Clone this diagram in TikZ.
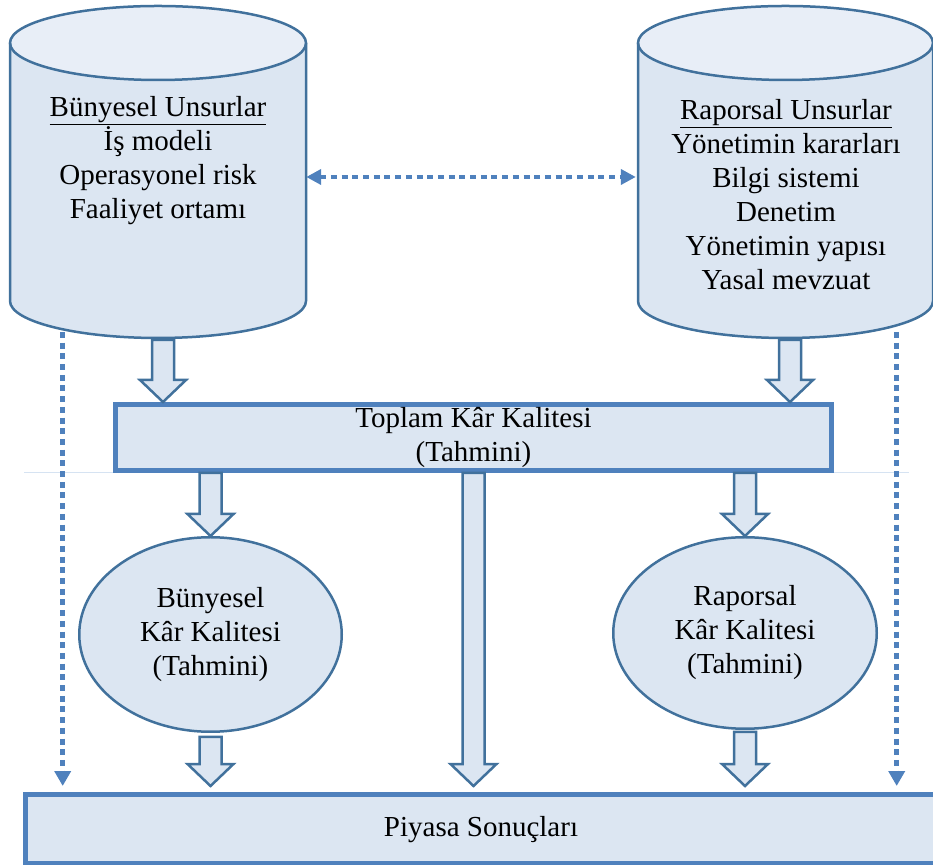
\documentclass[tikz,border=0pt]{standalone}
\usepackage{fontspec}
\setmainfont{Liberation Serif}
\usetikzlibrary{arrows.meta,shapes.geometric,calc}
\definecolor{fillc}{HTML}{DCE6F2}
\definecolor{topc}{HTML}{E8EEF7}
\definecolor{darkc}{HTML}{41719C}
\definecolor{midc}{HTML}{4F81BD}
\definecolor{faintc}{HTML}{D6E3F2}
\tikzset{
  txt/.style={align=center,font=\fontsize{29}{34}\selectfont,inner sep=0pt},
  cylline/.style={draw=darkc,line width=2.5pt},
  boxnode/.style={draw=midc,line width=5pt,fill=fillc,inner sep=0pt,align=center,font=\fontsize{29}{34}\selectfont},
  ellnode/.style={ellipse,draw=darkc,line width=2.5pt,fill=fillc,inner sep=0pt,align=center,font=\fontsize{29}{34}\selectfont},
  barrow/.style={draw=darkc,line width=2.5pt,fill=fillc,line join=miter,
    to path={let \p1=(\tikztostart), \p2=(\tikztotarget) in
      (\x1-11pt,\y1) -- (\x1-11pt,\y2+22pt) -- (\x1-23pt,\y2+22pt) -- (\x1,\y2)
      -- (\x1+23pt,\y2+22pt) -- (\x1+11pt,\y2+22pt) -- (\x1+11pt,\y1) -- cycle}},
  dotline/.style={draw=midc,line width=4.5pt,dash pattern=on 6pt off 4.7pt,
    -{Triangle[length=15pt,width=16pt]}},
  dotboth/.style={draw=midc,line width=4.5pt,dash pattern=on 6pt off 4.7pt,
    {Triangle[length=15pt,width=15pt]}-{Triangle[length=15pt,width=15pt]}}
}
\begin{document}
\begin{tikzpicture}[x=1pt,y=1pt]
\useasboundingbox (0,0) rectangle (933,864);
\clip (0,0) rectangle (933,864);

% faint horizontal rule
\coordinate (fl) at (24,392);
\coordinate (fr) at (909,392);
\draw[faintc,line width=0.8pt] (fl) -- (fr);

% left cylinder
\node[minimum width=296pt,minimum height=332pt,inner sep=0pt] (cylL) at (158,692) {};
\fill[fillc] (10,821) -- (10,563) arc[start angle=180,end angle=360,x radius=148,y radius=37] -- (306,821) -- cycle;
\fill[topc] (158,821) ellipse[x radius=148,y radius=37];
\draw[cylline] (10,821) -- (10,563) arc[start angle=180,end angle=360,x radius=148,y radius=37] -- (306,821);
\draw[cylline] (158,821) ellipse[x radius=148,y radius=37];
\node[txt] (tL) at (158,703) {\underline{Bünyesel Unsurlar}\\İş modeli\\Operasyonel risk\\Faaliyet ortamı};

% right cylinder
\node[minimum width=295pt,minimum height=332pt,inner sep=0pt] (cylR) at (785.5,692) {};
\fill[fillc] (638,821) -- (638,563) arc[start angle=180,end angle=360,x radius=147.5,y radius=37] -- (933,821) -- cycle;
\fill[topc] (785.5,821) ellipse[x radius=147.5,y radius=37];
\draw[cylline] (638,821) -- (638,563) arc[start angle=180,end angle=360,x radius=147.5,y radius=37] -- (933,821);
\draw[cylline] (785.5,821) ellipse[x radius=147.5,y radius=37];
\node[txt] (tR) at (786,669) {\underline{Raporsal Unsurlar}\\Yönetimin kararları\\Bilgi sistemi\\Denetim\\Yönetimin yapısı\\Yasal mevzuat};

% main boxes
\node[boxnode,minimum width=716pt,minimum height=66pt] (toplam) at (473.5,426.5) {Toplam Kâr Kalitesi\\(Tahmini)};
\node[ellnode,minimum width=262.5pt,minimum height=194.5pt] (ellL) at (210.5,229.5) {Bünyesel\\Kâr Kalitesi\\(Tahmini)};
\node[ellnode,minimum width=263.5pt,minimum height=191.5pt] (ellR) at (745,231) {Raporsal\\Kâr Kalitesi\\(Tahmini)};
\node[boxnode,minimum width=914.5pt,minimum height=69pt] (piyasa) at (482.75,35) {};
\node[txt] (pt) at (481,34) {Piyasa Sonuçları};

% helper coordinates
\coordinate (bt) at (0,78);
\coordinate (hy) at (0,687);
\coordinate (a1) at (163,524);
\coordinate (a2) at (790,524);
\coordinate (dL) at (62.7,532);
\coordinate (dR) at (896.7,532);

% block arrows
\draw[barrow] (a1) to (a1 |- toplam.north);
\draw[barrow] (a2) to (a2 |- toplam.north);
\draw[barrow] (toplam.south -| ellL.north) to (ellL.north);
\draw[barrow] (toplam.south -| ellR.north) to (ellR.north);
\draw[barrow] ([yshift=-4pt]ellL.south) to (ellL.south |- bt);
\draw[barrow] ([yshift=-2pt]ellR.south) to (ellR.south |- bt);
\draw[barrow] (toplam.south) to (toplam.south |- bt);

% dotted connectors
\draw[dotboth] (cylL.east |- hy) -- ([xshift=-2pt]cylR.west |- hy);
\draw[dotline] (dL) -- (dL |- bt);
\draw[dotline] (dR) -- (dR |- bt);
\end{tikzpicture}
\end{document}
